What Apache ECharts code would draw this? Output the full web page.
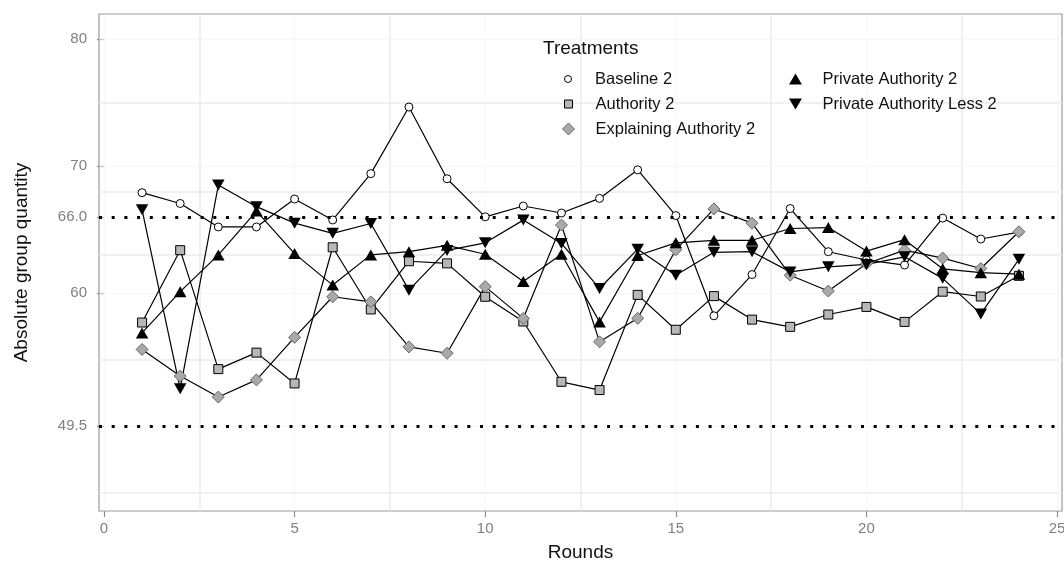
<!DOCTYPE html>
<html><head><meta charset="utf-8">
<script src="https://cdn.jsdelivr.net/npm/echarts@6/dist/echarts.min.js"></script>
<style>html,body{margin:0;padding:0;background:#fff}#c{width:1064px;height:563px}</style>
</head><body><div id="c"></div>
<script>
// ---- data ----
const rounds = [1,2,3,4,5,6,7,8,9,10,11,12,13,14,15,16,17,18,19,20,21,22,23,24];
const baseline2 = [67.9,67.05,65.2,65.2,67.4,65.75,69.4,74.65,69.0,66.0,66.85,66.3,67.45,69.7,66.1,58.2,61.45,66.65,63.25,62.6,62.2,65.9,64.25,64.8];
const authority2 = [57.67,63.37,54.0,55.3,52.87,63.6,58.7,62.5,62.33,59.7,57.75,53.0,52.35,59.85,57.1,59.75,57.9,57.33,58.3,58.9,57.72,60.1,59.72,61.35];
const explainingAuthority2 = [55.55,53.45,51.8,53.15,56.5,59.7,59.3,55.75,55.25,60.5,58.0,65.35,56.15,58.0,63.4,66.62,65.5,61.4,60.15,62.3,63.37,62.75,61.93,64.82];
const privateAuthority2 = [56.85,60.1,63.0,66.45,63.1,60.62,63.0,63.25,63.75,63.05,60.9,63.05,57.72,62.95,63.95,64.15,64.15,65.08,65.15,63.3,64.2,61.9,61.6,61.48];
const privateAuthorityLess2 = [66.55,52.45,68.5,66.8,65.5,64.7,65.47,60.22,63.35,63.95,65.74,63.9,60.35,63.45,61.4,63.2,63.25,61.66,62.06,62.25,62.85,61.15,58.35,62.65];
const seriesNames = ['Baseline 2','Authority 2','Explaining Authority 2','Private Authority 2','Private Authority Less 2'];
const seriesValues = [baseline2, authority2, explainingAuthority2, privateAuthority2, privateAuthorityLess2];
const legendTitle = 'Treatments';
const xTicks = [0,5,10,15,20,25];
const yTicks = [49.5,60,66,70,80];
const yTickLabels = ['49.5','60','66.0','70','80'];
const xMinorGrid = [2.5,7.5,12.5,17.5,22.5];
const yMinorGrid = [44.25,54.75,63,68,75];
const refLines = [66, 49.5];

// ---- styles ----
const FONT = "'Liberation Sans', Arial, sans-serif";
const P_CIRCLE = 'path://M0,1A1,1,0,1,1,2,1A1,1,0,1,1,0,1Z';
const P_SQUARE = 'path://M0,0L2,0L2,2L0,2Z';
const P_DIAMOND = 'path://M1,0L2,1L1,2L0,1Z';
const P_UP = 'path://M1,0L2,1.7L0,1.7Z';
const P_DOWN = 'path://M0,0L2,0L1,1.7Z';
const styles = [
  {symbol:'circle', size:8, fill:'#ffffff', border:'#000000', bw:1, icon:P_CIRCLE, iconH:7, pos:[564,69]},
  {symbol:'rect', size:9, fill:'#b7b7b7', border:'#000000', bw:1, icon:P_SQUARE, iconH:8, pos:[564,94]},
  {symbol:'diamond', size:12, fill:'#a9a9a9', border:'#6b6b6b', bw:1, icon:P_DIAMOND, iconH:12, pos:[562,119]},
  {symbol:'triangle', size:[12.5,11], fill:'#000000', border:'#000000', bw:0, icon:P_UP, iconH:11, pos:[789,69]},
  {symbol:P_DOWN, size:[12.5,11], fill:'#000000', border:'#000000', bw:0, icon:P_DOWN, iconH:11, pos:[789,94]}
];

const series = [];
// gridlines (drawn via the axes' scales)
const gridData = [];
xTicks.forEach(v => gridData.push({xAxis:v, lineStyle:{color:'#f2f2f2', width:0.6, type:'solid'}}));
xMinorGrid.forEach(v => gridData.push({xAxis:v, lineStyle:{color:'#ebebeb', width:1.5, type:'solid'}}));
yTicks.forEach(v => gridData.push({yAxis:v, lineStyle:{color:'#f2f2f2', width:0.6, type:'solid'}}));
yMinorGrid.forEach(v => gridData.push({yAxis:v, lineStyle:{color:'#ebebeb', width:1.5, type:'solid'}}));
series.push({type:'line', name:'_grid', data:[], silent:true, z:1,
  markLine:{silent:true, z:1, symbol:['none','none'], label:{show:false}, animation:false, data:gridData}});

seriesNames.forEach((name, i) => {
  const st = styles[i];
  const pts = rounds.map((r, j) => [r, seriesValues[i][j]]);
  series.push({type:'scatter', name, data:pts, z:3, symbol:st.symbol, symbolSize:st.size,
    itemStyle:{color:st.fill, borderColor:st.border, borderWidth:st.bw, opacity:1}, emphasis:{disabled:true}});
});
seriesNames.forEach((name, i) => {
  const pts = rounds.map((r, j) => [r, seriesValues[i][j]]);
  series.push({type:'line', name, data:pts, z:2, symbol:'none', showSymbol:false,
    lineStyle:{color:'#000', width:1.2}, emphasis:{disabled:true}});
});
series.push({type:'line', name:'_ref', data:[], silent:true, z:10,
  markLine:{silent:true, z:10, symbol:['none','none'], label:{show:false}, animation:false,
    lineStyle:{color:'#000', width:3, type:[3,9.7], cap:'butt'},
    data: refLines.map(v => ({yAxis:v}))}});

const legends = seriesNames.map((name, i) => {
  const st = styles[i];
  return {
    data:[{name, icon:st.icon, itemStyle:{color:st.fill, borderColor:st.border, borderWidth:st.bw}}],
    left:st.pos[0], top:st.pos[1], padding:0, itemWidth:44, itemHeight:st.iconH,
    selectedMode:false,
    textStyle:{fontSize:16.5, color:'#111', lineHeight:20, fontFamily:FONT}
  };
});

const chart = echarts.init(document.getElementById('c'), null, {renderer:'canvas'});
chart.setOption({
  animation:false,
  backgroundColor:'#fff',
  title:{text:legendTitle, left:543, top:38, padding:0,
    textStyle:{fontSize:19, fontWeight:'normal', color:'#111', fontFamily:FONT, lineHeight:22}},
  legend: legends,
  grid:{left:99, right:2, top:14, bottom:52, show:true, borderColor:'#9a9a9a', borderWidth:1.2,
    containLabel:false, outerBoundsMode:'none'},
  xAxis:{type:'value', min:-0.13, max:25.13,
    axisLine:{show:false}, splitLine:{show:false},
    axisTick:{show:true, customValues:xTicks, length:6, lineStyle:{color:'#8c8c8c', width:1.2}},
    axisLabel:{customValues:xTicks, color:'#7f7f7f', fontSize:15, margin:10, fontFamily:FONT},
    name:'Rounds', nameLocation:'middle', nameGap:32,
    nameTextStyle:{fontSize:19, color:'#111', fontFamily:FONT}},
  yAxis:{type:'value', min:42.82, max:81.98,
    axisLine:{show:false}, splitLine:{show:false},
    axisTick:{show:true, customValues:yTicks, length:7, lineStyle:{color:'#8c8c8c', width:1.2}},
    axisLabel:{customValues:yTicks, color:'#7f7f7f', fontSize:15, margin:12, fontFamily:FONT,
      formatter: v => { const k = yTicks.indexOf(v); return k >= 0 ? yTickLabels[k] : ''; }},
    name:'Absolute group quantity', nameLocation:'middle', nameGap:68, nameRotate:90,
    nameTextStyle:{fontSize:19, color:'#111', fontFamily:FONT}},
  series
});
</script>
</body></html>
